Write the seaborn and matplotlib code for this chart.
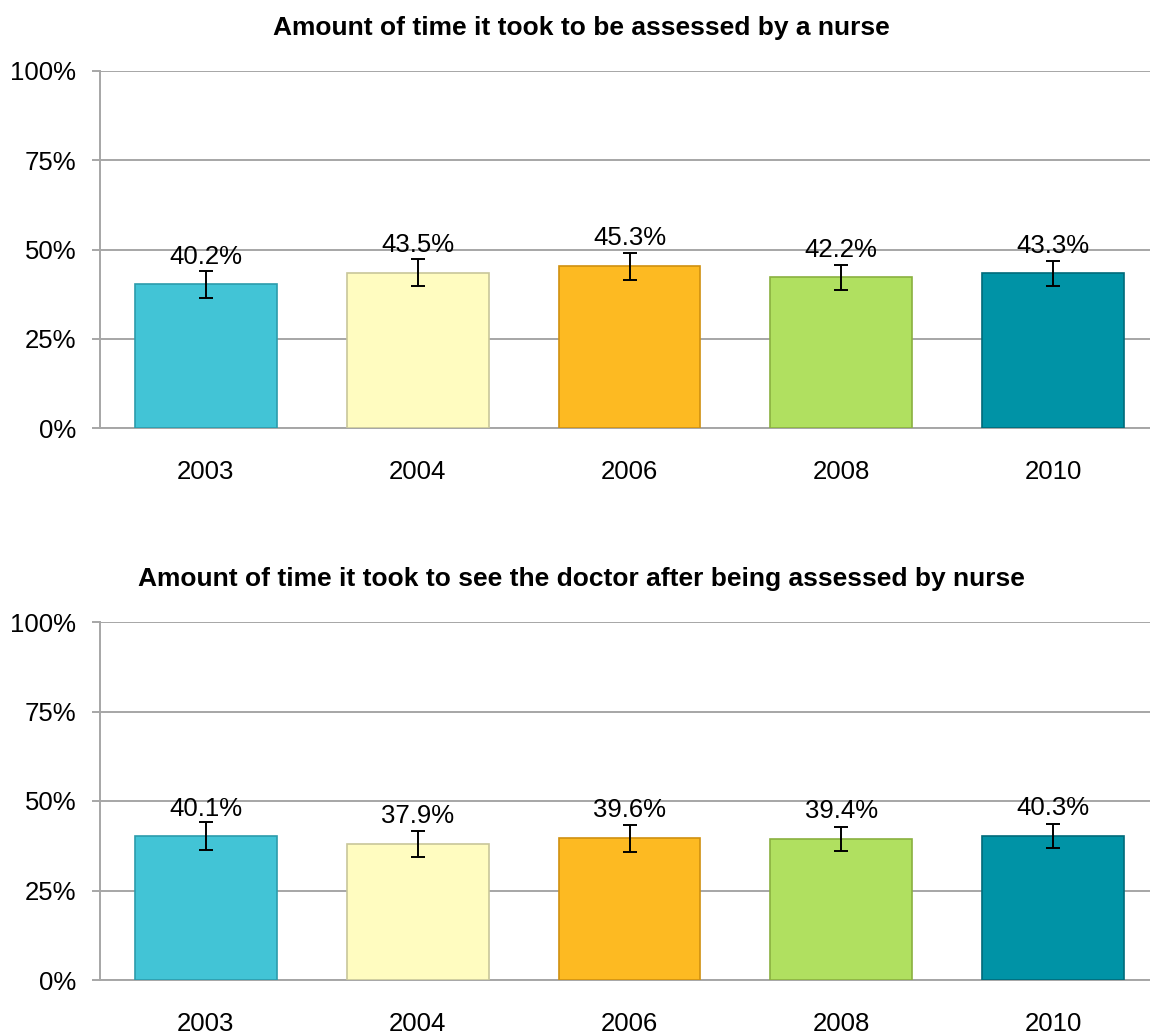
import seaborn as sns
import matplotlib.pyplot as plt
import numpy as np
from matplotlib.ticker import PercentFormatter

# data
years = ['2003', '2004', '2006', '2008', '2010']
nurse_pct = [40.2, 43.5, 45.3, 42.2, 43.3]
nurse_err = [3.9, 3.8, 3.8, 3.5, 3.5]
doctor_pct = [40.1, 37.9, 39.6, 39.4, 40.3]
doctor_err = [3.9, 3.6, 3.8, 3.3, 3.4]
titles = ['Amount of time it took to be assessed by a nurse',
          'Amount of time it took to see the doctor after being assessed by nurse']
bar_colors = ['#42C4D6', '#FFFCC0', '#FDBA22', '#B0E060', '#0093A6']
edge_colors = ['#2C9CAC', '#C8C69A', '#D0900F', '#8AB040', '#006B7A']

sns.set_style('white')
plt.rcParams['font.family'] = ['Liberation Sans', 'DejaVu Sans']
plt.rcParams['text.color'] = 'black'

fig = plt.figure(figsize=(11.5, 10.34), dpi=100)
W, H = 1150, 1034


def draw_panel(ax, values, errs, title):
    sns.barplot(x=years, y=values, hue=years, palette=bar_colors, legend=False,
                saturation=1, width=0.67, ax=ax, zorder=3)
    for patch, ec in zip(ax.patches, edge_colors):
        patch.set_edgecolor(ec)
        patch.set_linewidth(1.2)
    ax.errorbar(range(len(years)), values, yerr=errs, fmt='none', ecolor='black',
                elinewidth=1.4, capsize=4.7, capthick=1.4, zorder=4)
    for i, v in enumerate(values):
        ax.annotate(f'{v:.1f}%', (i, v), xytext=(0, 15), textcoords='offset points',
                    ha='center', va='baseline', fontsize=18.5, color='black', zorder=5)
    ax.set_ylim(0, 100)
    ax.set_xlim(-0.5, len(years) - 0.5)
    ax.set_yticks([0, 25, 50, 75, 100])
    ax.yaxis.set_major_formatter(PercentFormatter(decimals=0))
    ax.grid(axis='y', color='#A6A6A6', linewidth=1.4, zorder=0)
    ax.set_axisbelow(True)
    for s in ['top', 'right']:
        ax.spines[s].set_visible(False)
    for s in ['left', 'bottom']:
        ax.spines[s].set_color('#A6A6A6')
        ax.spines[s].set_linewidth(1.4)
    ax.set_xticks(np.arange(-0.5, len(years), 1.0), minor=True)
    ax.tick_params(axis='x', which='major', length=0, pad=23, labelsize=18.5,
                   labelcolor='black')
    ax.tick_params(axis='x', which='minor', length=6, width=1.4, color='#A6A6A6', direction='out')
    ax.tick_params(axis='y', length=6, width=1.4, color='#A6A6A6', direction='out',
                   pad=11, labelsize=18.5, labelcolor='black', left=True)
    ax.set_xlabel('')
    ax.set_ylabel('')
    ax.set_title(title, fontsize=19, fontweight='bold', x=0.455, pad=26, color='black')


left = 100 / W
width = 1059 / W
ax1 = fig.add_axes([left, 1 - 428 / H, width, 357 / H])
ax2 = fig.add_axes([left, 1 - 980 / H, width, 358 / H])
draw_panel(ax1, nurse_pct, nurse_err, titles[0])
draw_panel(ax2, doctor_pct, doctor_err, titles[1])

fig.savefig('out.png', dpi=100)
